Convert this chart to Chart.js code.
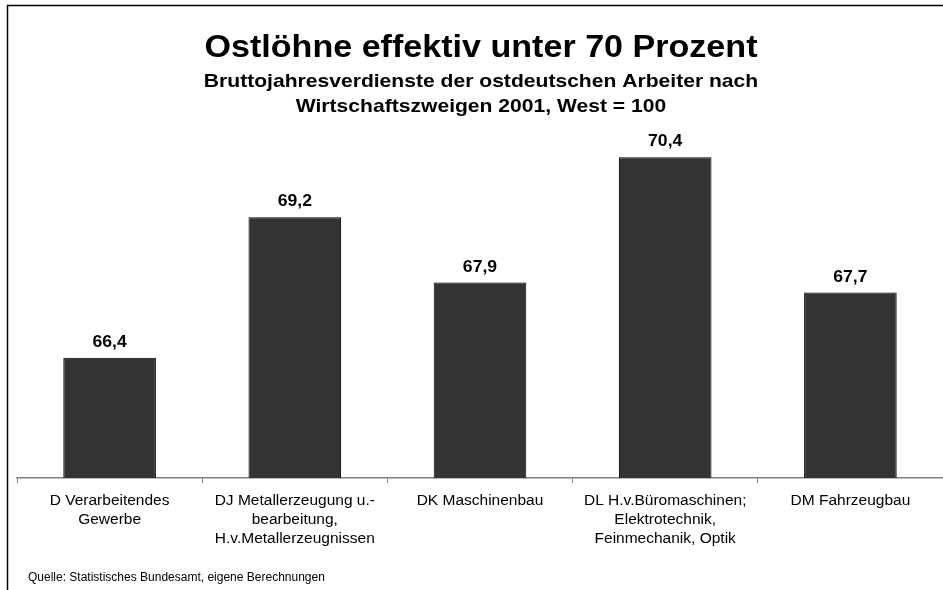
<!DOCTYPE html>
<html>
<head>
<meta charset="utf-8">
<script src="https://cdn.jsdelivr.net/npm/chart.js@4/dist/chart.umd.min.js"></script>
<style>
  html, body { margin: 0; padding: 0; background: #fff; overflow: hidden; }
  #wrap { width: 943px; height: 590px; position: relative; }
</style>
</head>
<body>
<div id="wrap"><canvas id="c" width="943" height="590"></canvas></div>
<script>
const titleText = "Ostlöhne effektiv unter 70 Prozent";
const subtitleLines = ["Bruttojahresverdienste der ostdeutschen Arbeiter nach", "Wirtschaftszweigen 2001, West = 100"];
const sourceText = "Quelle: Statistisches Bundesamt, eigene Berechnungen";
const categories = [
  ["D Verarbeitendes", "Gewerbe"],
  ["DJ Metallerzeugung u.-", "bearbeitung,", "H.v.Metallerzeugnissen"],
  ["DK Maschinenbau"],
  ["DL H.v.Büromaschinen;", "Elektrotechnik,", "Feinmechanik, Optik"],
  ["DM Fahrzeugbau"]
];
const values = [66.4, 69.2, 67.9, 70.4, 67.7];
const valueLabels = ["66,4", "69,2", "67,9", "70,4", "67,7"];

const FONT = '"Liberation Sans", Arial, Helvetica, sans-serif';

function stretchText(ctx, text, x, y, font, sx) {
  ctx.save();
  ctx.translate(x, y);
  ctx.scale(sx, 1);
  ctx.font = font;
  ctx.fillStyle = '#000';
  ctx.textAlign = 'center';
  ctx.textBaseline = 'alphabetic';
  ctx.fillText(text, 0, 0);
  ctx.restore();
}

const decor = {
  id: 'decor',
  beforeDraw(chart) {
    const ctx = chart.ctx;
    ctx.save();
    ctx.fillStyle = '#fff';
    ctx.fillRect(0, 0, chart.width, chart.height);
    ctx.strokeStyle = '#000';
    ctx.lineWidth = 1.5;
    ctx.beginPath();
    ctx.moveTo(7.5, chart.height + 2);
    ctx.lineTo(7.5, 5.5);
    ctx.lineTo(chart.width + 2, 5.5);
    ctx.stroke();
    ctx.restore();
  },
  afterDatasetsDraw(chart) {
    const ctx = chart.ctx;
    const meta = chart.getDatasetMeta(0);
    meta.data.forEach((bar, i) => {
      stretchText(ctx, valueLabels[i], bar.x, bar.y - 11, 'bold 16px ' + FONT, 1.1);
    });
  },
  afterDraw(chart) {
    const ctx = chart.ctx;
    const cx = 481;
    stretchText(ctx, titleText, cx, 57, 'bold 32px ' + FONT, 1.065);
    stretchText(ctx, subtitleLines[0], cx, 87, 'bold 18.5px ' + FONT, 1.14);
    stretchText(ctx, subtitleLines[1], cx, 111.5, 'bold 18.5px ' + FONT, 1.14);
    ctx.save();
    ctx.font = '12px ' + FONT;
    ctx.fillStyle = '#000';
    ctx.textAlign = 'left';
    ctx.textBaseline = 'alphabetic';
    ctx.fillText(sourceText, 28, 581);
    ctx.restore();
  }
};

new Chart(document.getElementById('c'), {
  type: 'bar',
  data: {
    labels: categories,
    datasets: [{
      data: values,
      backgroundColor: '#333333',
      borderColor: '#000000',
      borderWidth: 1,
      barPercentage: 0.5,
      categoryPercentage: 1.0
    }]
  },
  options: {
    responsive: false,
    animation: false,
    devicePixelRatio: 1,
    layout: { padding: { top: 77, left: 17, right: 0, bottom: 34 } },
    plugins: { legend: { display: false }, tooltip: { enabled: false }, title: { display: false } },
    scales: {
      y: { display: false, min: 64, max: 72 },
      x: {
        offset: true,
        grid: { display: true, drawOnChartArea: false, drawTicks: true, tickLength: 5, color: '#808080', lineWidth: 1, offset: true },
        border: { display: true, color: '#808080', width: 1.5 },
        ticks: {
          autoSkip: false, maxRotation: 0, minRotation: 0, padding: 8,
          color: '#000',
          font: { family: FONT, size: 15.5, lineHeight: '19px' }
        }
      }
    }
  },
  plugins: [decor]
});
</script>
</body>
</html>
